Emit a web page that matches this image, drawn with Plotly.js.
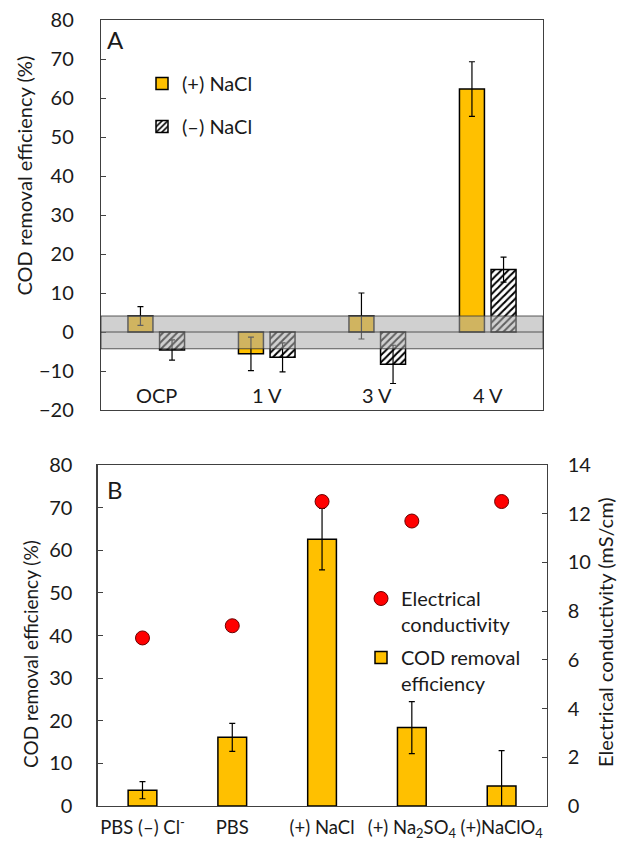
<!DOCTYPE html>
<html>
<head>
<meta charset="utf-8">
<script src="https://cdn.plot.ly/plotly-3.0.1.min.js"></script>
<style>html,body{margin:0;padding:0;background:#fff;}#chart{width:617px;height:841px;}</style>
</head>
<body>
<div id="chart"></div>
<script>
// ---------- Panel A data ----------
const categoriesA = ["OCP", "1 V", "3 V", "4 V"];
const plusNaCl = [4.1, -5.6, 4.1, 62.3];
const plusNaClErr = [2.4, 4.3, 5.9, 7.0];
const minusNaCl = [-4.6, -6.5, -8.3, 16.0];
const minusNaClErr = [2.6, 3.7, 4.9, 3.2];
const bandLow = -4.3;
const bandHigh = 4.1;

// ---------- Panel B data ----------
const categoriesB = ["PBS (\u2013) Cl<sup>-</sup>", "PBS", "(+) NaCl", "(+) Na<sub>2</sub>SO<sub>4</sub>", "(+)NaClO<sub>4</sub>"];
const codB = [3.7, 16.1, 62.6, 18.4, 4.7];
const codBErr = [2.0, 3.3, 7.2, 6.1, 8.3];
const conductivityB = [6.9, 7.4, 12.5, 11.7, 12.5];

const W = 617, H = 841;
const FONT = "Lato, 'Open Sans', sans-serif";
const TXT = "#1a1a1a";
const FS = 20;
const px = v => v / W;
const py = v => 1 - v / H;

const errStyle = {type: "data", visible: true, color: "#000", thickness: 1.2, width: 3};

const traces = [
  {
    type: "bar", x: categoriesA, y: plusNaCl, xaxis: "x", yaxis: "y",
    name: "(+) NaCl", legend: "legend", legendgroup: "a1",
    width: 0.226, offset: -0.256,
    marker: {color: "#FFC000", line: {color: "#000", width: 1.5}},
    error_y: Object.assign({array: plusNaClErr}, errStyle),
    hoverinfo: "skip"
  },
  {
    type: "bar", x: categoriesA, y: minusNaCl, xaxis: "x", yaxis: "y",
    name: "(\u2013) NaCl", legend: "legend", legendgroup: "a2",
    width: 0.226, offset: 0.030,
    marker: {color: "#fff", line: {color: "#000", width: 1.5},
             pattern: {shape: "/", fgcolor: "#000", bgcolor: "#fff", size: 5, solidity: 0.4, fillmode: "replace"}},
    error_y: Object.assign({array: minusNaClErr}, errStyle),
    hoverinfo: "skip"
  },
  {
    type: "bar", x: categoriesB, y: codB, xaxis: "x2", yaxis: "y2",
    name: "COD removal<br>efficiency", legend: "legend2", legendgroup: "b2", legendrank: 2,
    width: 0.32,
    marker: {color: "#FFC000", line: {color: "#000", width: 1.5}},
    error_y: Object.assign({array: codBErr}, errStyle),
    hoverinfo: "skip"
  },
  {
    type: "scatter", mode: "markers", x: categoriesB, y: conductivityB, xaxis: "x2", yaxis: "y3",
    name: "Electrical<br>conductivity", legend: "legend2", legendgroup: "b1", legendrank: 1,
    marker: {color: "#FF0000", size: 14, line: {color: "#6a0000", width: 1}},
    hoverinfo: "skip"
  }
];

const axisCommon = {
  showgrid: false, zeroline: false, showline: true, linecolor: "#404040", linewidth: 1.2,
  mirror: true, automargin: false, tickfont: {family: FONT, size: FS, color: TXT}
};

const ann = (x, y, text, size, extra) => Object.assign({
  x: px(x), y: py(y), xref: "paper", yref: "paper", text: text, showarrow: false,
  xanchor: "center", yanchor: "middle", font: {family: FONT, size: size, color: TXT}
}, extra || {});

const annotations = [];
categoriesA.forEach(c => annotations.push({
  x: c, y: -16.2, xref: "x", yref: "y", text: c, showarrow: false, xanchor: "center", yanchor: "middle",
  font: {family: FONT, size: FS, color: TXT}
}));
annotations.push(
  ann(115.5, 40, "A", 24),
  ann(115, 489, "B", 24),
  ann(23.5, 176, "COD removal efficiency (%)", FS, {textangle: -90}),
  ann(30, 654, "COD removal efficiency (%)", 19, {textangle: -90}),
  ann(605, 632, "Electrical conductivity (mS/cm)", FS, {textangle: -90})
);

const layout = {
  width: W, height: H, margin: {l: 0, r: 0, t: 0, b: 0}, paper_bgcolor: "#fff", plot_bgcolor: "rgba(0,0,0,0)",
  barmode: "overlay",
  font: {family: FONT, size: FS, color: TXT},
  xaxis: Object.assign({}, axisCommon, {domain: [px(101), px(543)], anchor: "y", showticklabels: false, ticks: "",
    range: [-0.5, 3.5]}),
  yaxis: Object.assign({}, axisCommon, {domain: [py(410), py(20)], anchor: "x", range: [-20, 80], dtick: 10,
    ticks: "inside", ticklen: 5, tickcolor: "#404040", ticklabelstandoff: 22}),
  xaxis2: Object.assign({}, axisCommon, {domain: [px(97.6), px(546.5)], anchor: "y2", ticks: "",
    range: [-0.5, 4.5], tickangle: 0, ticklabelstandoff: 5,
    tickfont: {family: FONT, size: 18.5, color: TXT}}),
  yaxis2: Object.assign({}, axisCommon, {domain: [py(806), py(465)], anchor: "x2", range: [0, 80], dtick: 10,
    ticks: "inside", ticklen: 5, tickcolor: "#404040", ticklabelstandoff: 20}),
  yaxis3: Object.assign({}, axisCommon, {overlaying: "y2", anchor: "x2", side: "right", range: [0, 14], dtick: 2,
    mirror: false, ticks: "inside", ticklen: 5, tickcolor: "#404040", ticklabelstandoff: 16}),
  legend: {x: px(142), y: py(64), xanchor: "left", yanchor: "top", bgcolor: "rgba(0,0,0,0)",
    font: {family: FONT, size: FS, color: TXT}, tracegroupgap: 14, itemclick: false},
  legend2: {x: px(361), y: py(579), xanchor: "left", yanchor: "top", bgcolor: "rgba(0,0,0,0)", valign: "top",
    font: {family: FONT, size: FS, color: TXT}, tracegroupgap: 4, traceorder: "grouped"},
  shapes: [
    {type: "rect", xref: "x domain", x0: 0, x1: 1, yref: "y", y0: bandLow, y1: bandHigh,
     fillcolor: "rgba(171,171,171,0.56)", line: {color: "rgba(50,50,50,0.8)", width: 1}, layer: "above"},
    {type: "line", xref: "x domain", x0: 0, x1: 1, yref: "y", y0: 0, y1: 0,
     line: {color: "rgba(50,50,50,0.8)", width: 1}, layer: "above"}
  ],
  annotations: annotations,
  showlegend: true
};

Plotly.newPlot("chart", traces, layout, {staticPlot: true, displayModeBar: false});
</script>
</body>
</html>
